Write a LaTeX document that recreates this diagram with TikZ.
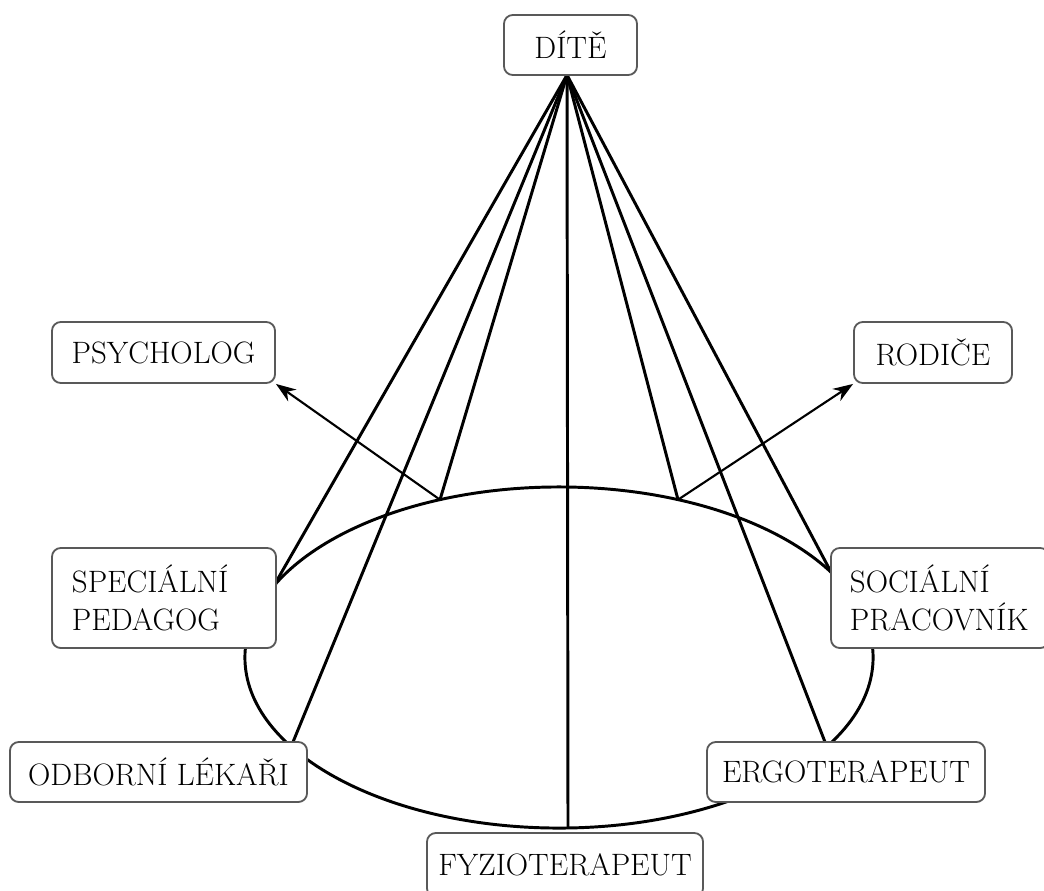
\documentclass[tikz,border=0pt]{standalone}
\usetikzlibrary{arrows.meta,backgrounds}
\begin{document}
\begin{tikzpicture}[x=0.025cm,y=-0.025cm,
  box/.style={draw=black!65,line width=1.3pt,rounded corners=0.22cm,fill=white,
    inner sep=0pt,font=\fontsize{22}{27}\selectfont,align=center},
  twobox/.style={box,align=left,inner xsep=0.5cm,minimum height=2.5cm},
  link/.style={line width=2.1pt,black},
  arr/.style={line width=1.5pt,black,-{Stealth[length=0.5cm,width=0.36cm]}}]
\useasboundingbox (0,0) rectangle (1044,890);
% nodes
\node[box,minimum width=3.325cm,minimum height=1.5cm] (di) at (570.5,45) {DÍTĚ};
\node[box,minimum width=5.575cm,minimum height=1.525cm] (ps) at (163.5,352.5) {PSYCHOLOG};
\node[box,minimum width=3.95cm,minimum height=1.525cm] (ro) at (933,352.5) {RODIČE};
\node[twobox,text width=4.6cm] (sp) at (164,598) {SPECIÁLNÍ\\PEDAGOG};
\node[twobox,inner xsep=0.475cm,text width=4.5cm] (so) at (940,598) {SOCIÁLNÍ\\PRACOVNÍK};
\node[box,minimum width=7.425cm,minimum height=1.5cm] (ol) at (158.5,772) {ODBORNÍ LÉKAŘI};
\node[box,minimum width=6.95cm,minimum height=1.5cm] (er) at (846,772) {ERGOTERAPEUT};
\node[box,minimum width=6.9cm,minimum height=1.6cm] (fy) at (565,865) {FYZIOTERAPEUT};
% connector end points
\coordinate (apex) at (567,75);
\coordinate (e1) at (440,499.7);
\coordinate (e2) at (678,499.7);
\coordinate (bot) at (568,828);
\coordinate (spE) at (276,582);
\coordinate (olE) at (293,742);
\coordinate (soE) at (831,572);
\coordinate (erE) at (825,742);
\begin{scope}[on background layer]
\draw[link] (559,657.5) ellipse [x radius=7.85cm, y radius=4.2625cm];
\draw[link] (apex) -- (spE);
\draw[link] (apex) -- (olE);
\draw[link] (apex) -- (e1);
\draw[link] (apex) -- (bot);
\draw[link] (apex) -- (e2);
\draw[link] (apex) -- (soE);
\draw[link] (apex) -- (erE);
\end{scope}
\draw[arr] (e1) -- (ps.south east);
\draw[arr] (e2) -- (ro.south west);
\end{tikzpicture}
\end{document}
